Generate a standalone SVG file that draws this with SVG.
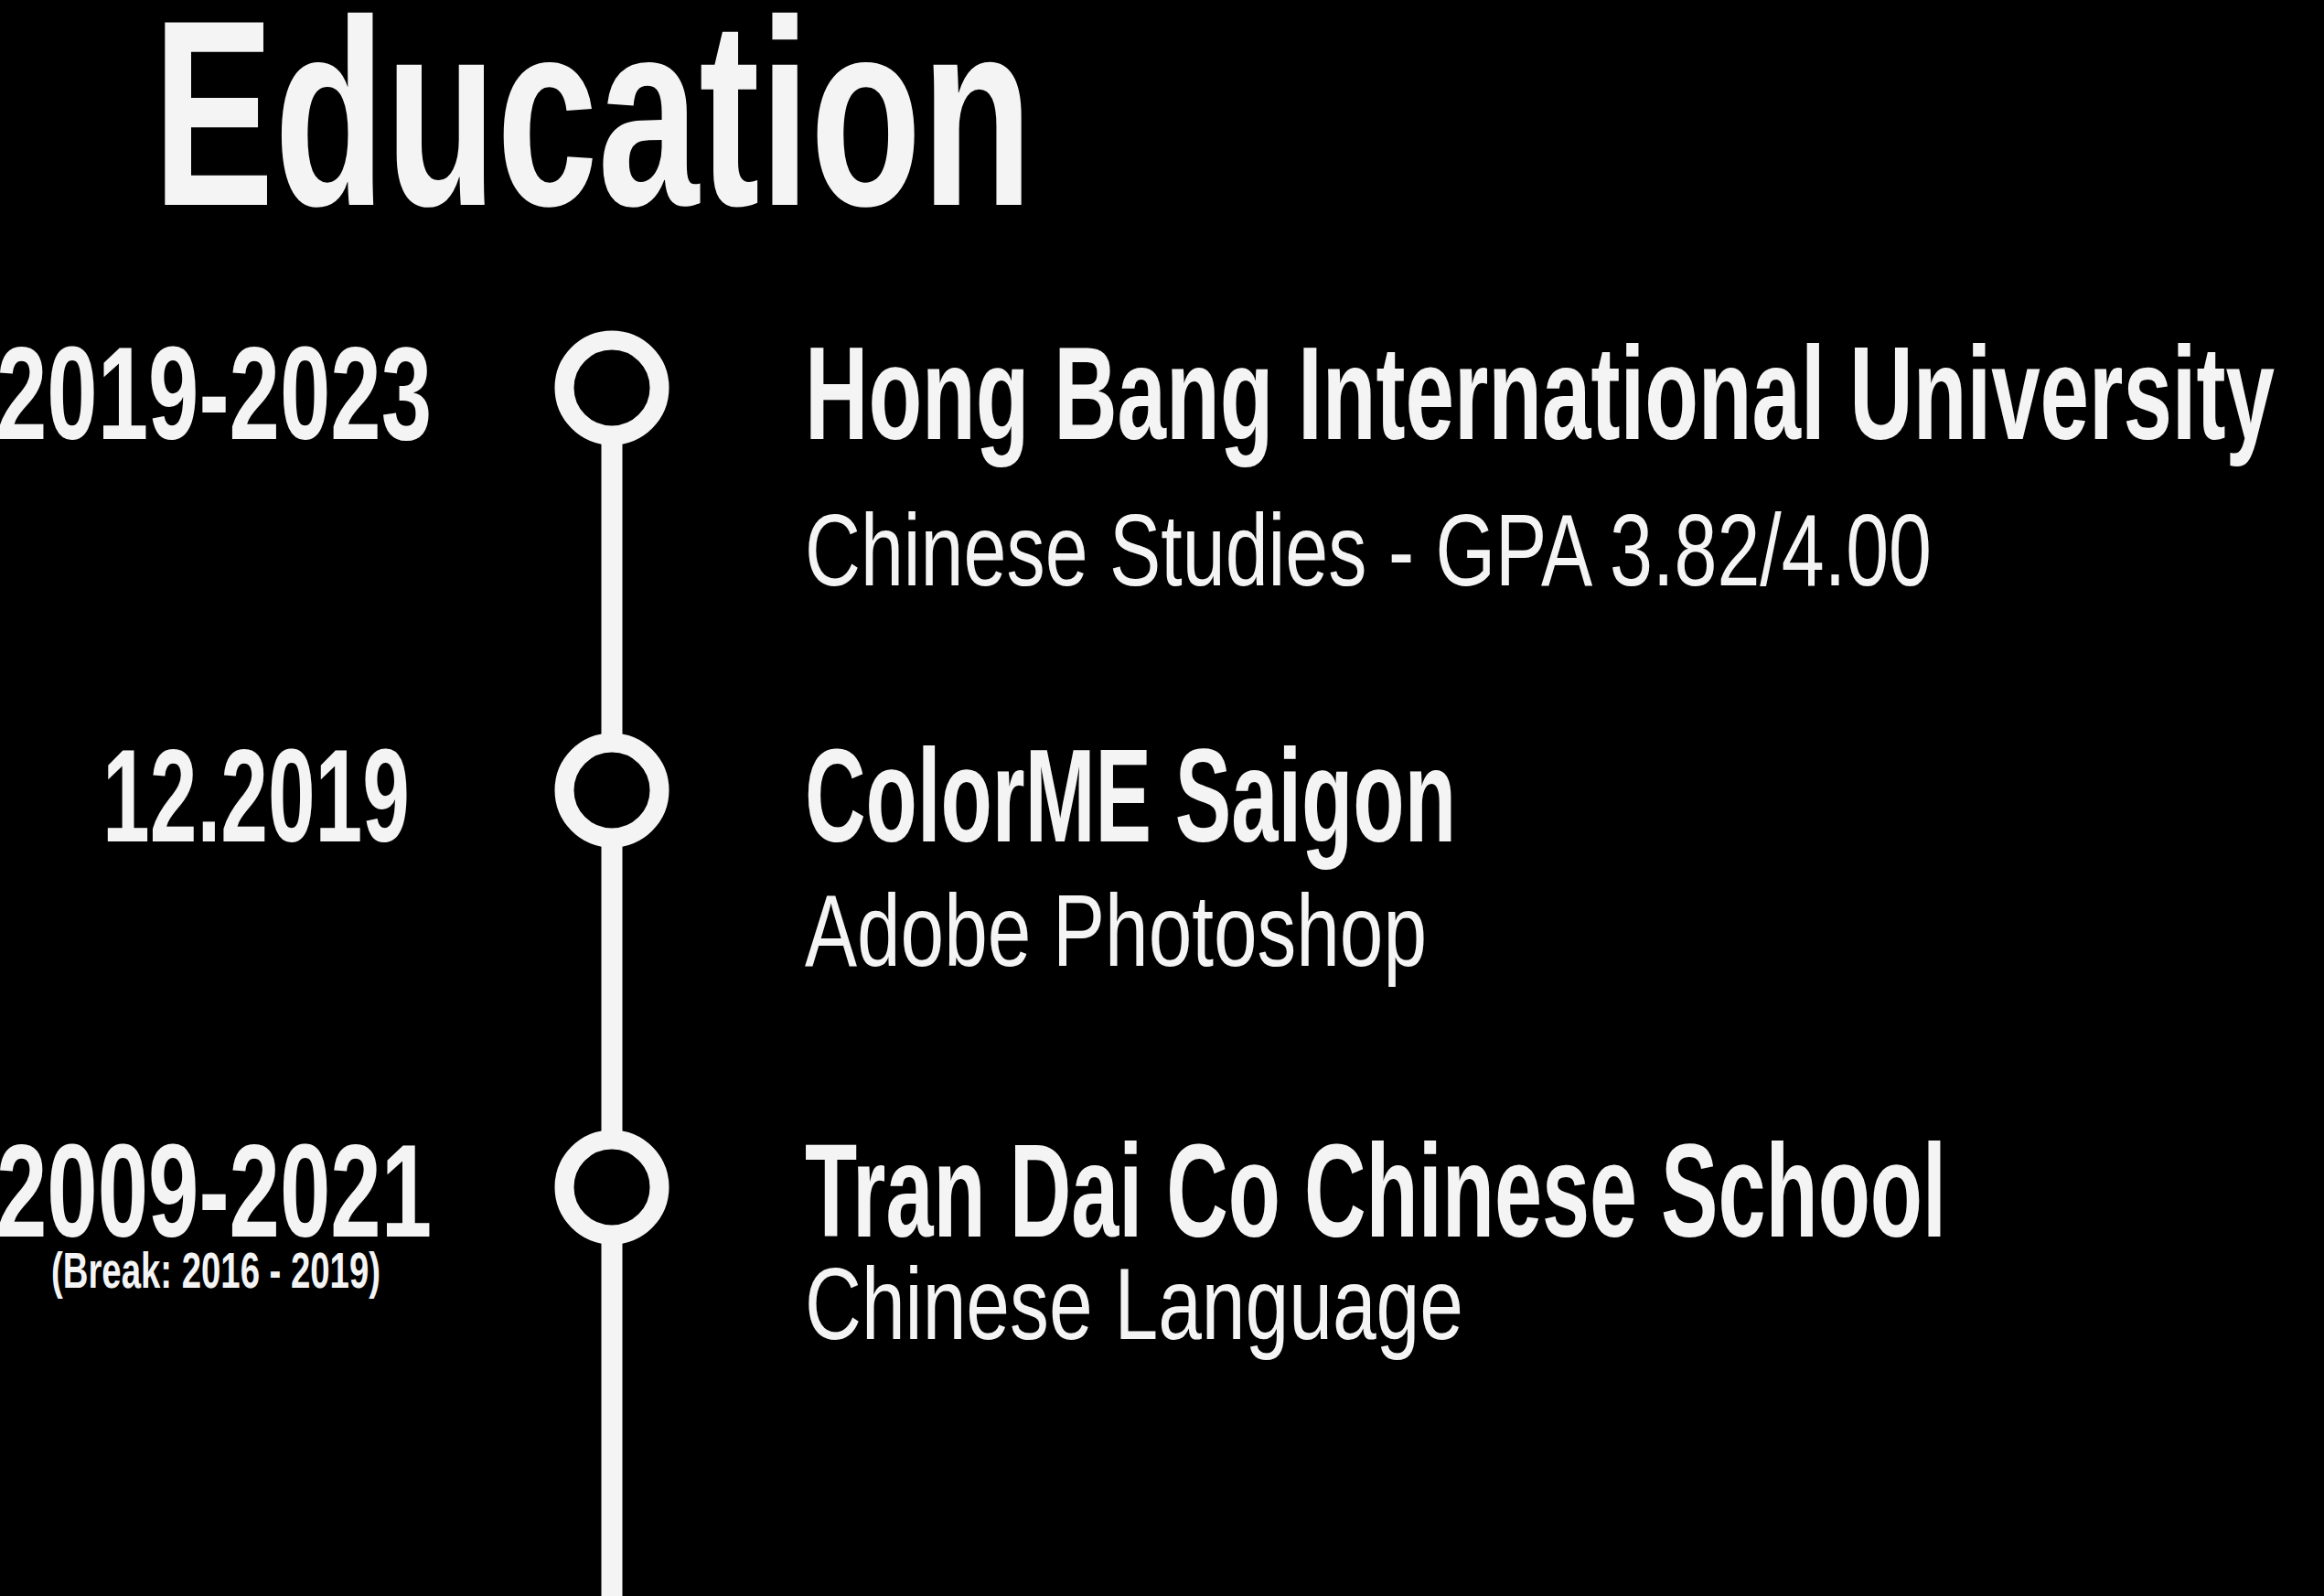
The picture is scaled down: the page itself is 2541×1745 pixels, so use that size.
<svg xmlns="http://www.w3.org/2000/svg" width="2541" height="1745" viewBox="0 0 2541 1745">
  <style>
    .bg { fill: #000000; }
    .t { fill: #f4f4f4; font-family: "Liberation Sans", Arial, sans-serif; }
    .b { font-weight: bold; }
    .head { font-size: 290px; font-weight: bold; }
    .title { font-size: 145px; font-weight: bold; }
    .date { font-size: 145px; font-weight: bold; }
    .sub { font-size: 112px; }
    .small { font-size: 56px; font-weight: bold; }
    .dot { fill: #000000; stroke: #f4f4f4; stroke-width: 21; }
    .line { stroke: #f4f4f4; stroke-width: 23; fill: none; }
  </style>
  <rect class="bg" x="0" y="0" width="2541" height="1745"/>

  <g id="heading">
    <text class="t head" x="167" y="224" textLength="962" lengthAdjust="spacingAndGlyphs">Education</text>
  </g>

  <g id="connectors">
    <line class="line" x1="669" y1="424" x2="669" y2="1745"/>
  </g>

  <g id="node-hiu">
    <circle class="dot" cx="669" cy="424" r="52"/>
    <text class="t date" x="472" y="480" text-anchor="end" textLength="476" lengthAdjust="spacingAndGlyphs">2019-2023</text>
    <text class="t title" x="880" y="480" textLength="1607" lengthAdjust="spacingAndGlyphs">Hong Bang International University</text>
    <text class="t sub" x="880" y="640" textLength="1232" lengthAdjust="spacingAndGlyphs">Chinese Studies - GPA 3.82/4.00</text>
  </g>

  <g id="node-colorme">
    <circle class="dot" cx="669" cy="864" r="52"/>
    <text class="t date" x="448" y="920" text-anchor="end" textLength="336" lengthAdjust="spacingAndGlyphs">12.2019</text>
    <text class="t title" x="880" y="920" textLength="712" lengthAdjust="spacingAndGlyphs">ColorME Saigon</text>
    <text class="t sub" x="880" y="1056" textLength="680" lengthAdjust="spacingAndGlyphs">Adobe Photoshop</text>
  </g>

  <g id="node-school">
    <circle class="dot" cx="669" cy="1298" r="52"/>
    <text class="t date" x="472" y="1352" text-anchor="end" textLength="476" lengthAdjust="spacingAndGlyphs">2009-2021</text>
    <text class="t small" x="56" y="1408" textLength="360" lengthAdjust="spacingAndGlyphs">(Break: 2016 - 2019)</text>
    <text class="t title" x="880" y="1352" textLength="1248" lengthAdjust="spacingAndGlyphs">Tran Dai Co Chinese School</text>
    <text class="t sub" x="880" y="1464" textLength="720" lengthAdjust="spacingAndGlyphs">Chinese Language</text>
  </g>
</svg>
